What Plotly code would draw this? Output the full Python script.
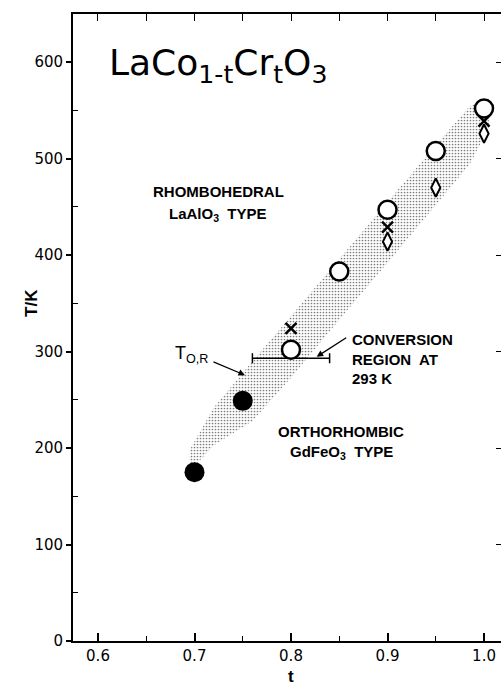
import plotly.graph_objects as go

# Composition t and transition temperatures (K) for LaCo(1-t)Cr(t)O3
t_filled = [0.70, 0.75]
T_filled = [175, 249]

t_open = [0.80, 0.85, 0.90, 0.95, 1.00]
T_open = [302, 383, 447, 508, 552]

t_cross = [0.80, 0.90, 1.00]
T_cross = [324, 429, 539]

t_diamond = [0.90, 0.95, 1.00]
T_diamond = [414, 470, 526]

# Conversion region measured at 293 K
conv_t_center = [0.80]
conv_T = [293]
conv_half_width = [0.04]

# Stippled transition band: upper and lower edges
band_t = [0.695, 0.72, 0.76, 0.80, 0.85, 0.90, 0.95, 0.985, 1.005]
band_hi = [198, 242, 290, 337, 396, 455, 514, 554, 563]
band_lo = [176, 203, 228, 273, 333, 392, 452, 494, 532]

x_ticks = [0.6, 0.7, 0.8, 0.9, 1.0]
x_ticktext = ["0.6", "0.7", "0.8", "0.9", "1.0"]
y_ticks = [0, 100, 200, 300, 400, 500, 600]

X_RANGE = [0.5741, 1.0176]
Y_RANGE = [0, 650]

fig = go.Figure()

# transition band
fig.add_trace(go.Scatter(
    x=band_t + band_t[::-1],
    y=band_hi + band_lo[::-1],
    fill="toself",
    mode="none",
    fillcolor="rgba(0,0,0,0)",
    fillpattern=dict(shape=".", fgcolor="#707070", bgcolor="white",
                     size=3, solidity=0.26, fgopacity=0.9),
    hoverinfo="skip",
    showlegend=False,
))

# conversion region bar
fig.add_trace(go.Scatter(
    x=conv_t_center, y=conv_T, mode="markers",
    marker=dict(size=1, color="rgba(0,0,0,0)"),
    error_x=dict(type="data", array=conv_half_width, symmetric=True,
                 color="black", thickness=1.5, width=5),
    showlegend=False, hoverinfo="skip",
))

fig.add_trace(go.Scatter(
    x=t_filled, y=T_filled, mode="markers",
    marker=dict(symbol="circle", size=20, color="black"),
    showlegend=False,
))
fig.add_trace(go.Scatter(
    x=t_open, y=T_open, mode="markers",
    marker=dict(symbol="circle", size=18, color="white",
                line=dict(color="black", width=2.5)),
    showlegend=False,
))
fig.add_trace(go.Scatter(
    x=t_cross, y=T_cross, mode="markers",
    marker=dict(symbol="x-thin-open", size=11, color="black",
                line=dict(color="black", width=2.5)),
    showlegend=False,
))
fig.add_trace(go.Scatter(
    x=t_diamond, y=T_diamond, mode="markers",
    marker=dict(symbol="diamond-tall", size=13, color="white",
                line=dict(color="black", width=2)),
    showlegend=False,
))

# mirrored top/right axes carrying inward ticks only
fig.add_trace(go.Scatter(x=[None], y=[None], xaxis="x2", yaxis="y2",
                         showlegend=False, hoverinfo="skip"))

TICK_FONT = dict(family="DejaVu Sans", size=15, color="black")
LABEL_FONT = dict(family="Liberation Sans", size=15, color="black", weight="bold")

fig.update_layout(
    width=501, height=685,
    margin=dict(l=73, r=0, t=14, b=44),
    paper_bgcolor="white", plot_bgcolor="white",
    xaxis=dict(
        range=X_RANGE, tickvals=x_ticks, ticktext=x_ticktext,
        ticks="inside", ticklen=8, tickwidth=1.5, tickcolor="black",
        showline=True, linecolor="black", linewidth=2,
        showgrid=False, zeroline=False, tickfont=TICK_FONT,
        minor=dict(tickvals=[0.65, 0.75, 0.85, 0.95], ticks="inside",
                   ticklen=5, tickwidth=1.2, tickcolor="black"),
    ),
    yaxis=dict(
        range=Y_RANGE, tickvals=y_ticks,
        ticks="outside", ticklen=5, tickwidth=1.5, tickcolor="black",
        showline=True, linecolor="black", linewidth=1.8,
        showgrid=False, zeroline=False, tickfont=TICK_FONT,
        minor=dict(tickvals=[50, 150, 250, 350, 450, 550], ticks="inside",
                   ticklen=5, tickwidth=1.2, tickcolor="black"),
    ),
    xaxis2=dict(
        range=X_RANGE, overlaying="x", side="top", anchor="y",
        dtick=0.05, tick0=0.6, ticks="inside", ticklen=7, tickwidth=1.3,
        tickcolor="black", showticklabels=False,
        showline=True, linecolor="black", linewidth=1.5,
        showgrid=False, zeroline=False,
    ),
    yaxis2=dict(
        range=Y_RANGE, overlaying="y", side="right", anchor="x",
        tickvals=y_ticks, ticks="inside", ticklen=5, tickwidth=1.3,
        tickcolor="black", showticklabels=False,
        showline=False, showgrid=False, zeroline=False,
    ),
)

annotations = [
    dict(x=0.6093, y=597, xref="x", yref="y", xanchor="left", yanchor="middle",
         text="LaCo<sub>1-t</sub>Cr<sub>t</sub>O<sub>3</sub>",
         font=dict(family="DejaVu Sans", size=36, color="black"), showarrow=False),
    dict(x=0.7244, y=466, xref="x", yref="y", text="RHOMBOHEDRAL",
         font=LABEL_FONT, showarrow=False),
    dict(x=0.7244, y=442, xref="x", yref="y", text="LaAlO<sub>3</sub>  TYPE",
         font=LABEL_FONT, showarrow=False),
    dict(x=0.852, y=217.6, xref="x", yref="y", text="ORTHORHOMBIC",
         font=LABEL_FONT, showarrow=False),
    dict(x=0.852, y=195, xref="x", yref="y", text="GdFeO<sub>3</sub>  TYPE",
         font=LABEL_FONT, showarrow=False),
    dict(x=0.8611, y=292.6, xref="x", yref="y", xanchor="left", yanchor="middle",
         align="left", text="CONVERSION<br>REGION  AT<br>293 K",
         font=LABEL_FONT, showarrow=False),
    dict(x=0.6974, y=297, xref="x", yref="y",
         text="T<sub>O,R</sub>",
         font=dict(family="Liberation Sans", size=18, color="black"),
         showarrow=False),
    # arrows
    dict(x=0.7523, y=275.6, xref="x", yref="y", ax=-33, ay=-14, text="",
         showarrow=True, arrowhead=2, arrowsize=1, arrowwidth=1.3,
         arrowcolor="black"),
    dict(x=0.8266, y=294.6, xref="x", yref="y", ax=31, ay=-20, text="",
         showarrow=True, arrowhead=2, arrowsize=1, arrowwidth=1.3,
         arrowcolor="black"),
    # axis titles
    dict(x=0.8, y=-0.056, xref="x", yref="paper", yanchor="middle",
         text="t", font=dict(family="Liberation Sans", size=17, color="black",
                             weight="bold"), showarrow=False),
    dict(x=-0.1238, y=350, xref="paper", yref="y", textangle=-90,
         text="T/K", font=dict(family="Liberation Sans", size=17, color="black",
                               weight="bold"), showarrow=False),
]
fig.update_layout(annotations=annotations)

fig.write_html("out.html")
